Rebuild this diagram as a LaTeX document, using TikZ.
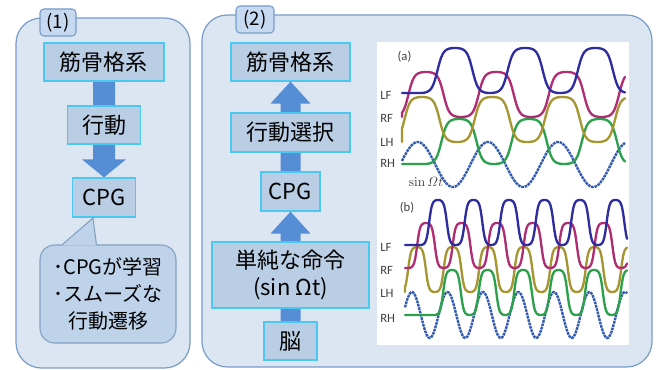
\documentclass[tikz,border=0pt]{standalone}
\usepackage[no-math]{fontspec}
\setmainfont{Noto Sans CJK JP}
\newfontfamily\labfont{Carlito}
\usetikzlibrary{calc}
\pgfdeclarelayer{bg}
\pgfsetlayers{bg,main}
\definecolor{panelfill}{RGB}{220,230,242}
\definecolor{panelline}{RGB}{120,155,200}
\definecolor{tabfill}{RGB}{198,217,241}
\definecolor{boxfill}{RGB}{185,205,229}
\definecolor{boxline}{RGB}{75,200,240}
\definecolor{arrowfill}{RGB}{85,142,213}
\definecolor{callfill}{RGB}{190,210,234}
\definecolor{callline}{RGB}{130,160,195}
\definecolor{cLF}{RGB}{45,45,160}
\definecolor{cRF}{RGB}{175,45,115}
\definecolor{cLH}{RGB}{165,150,50}
\definecolor{cRH}{RGB}{45,160,75}
\definecolor{csin}{RGB}{50,90,175}
% #1 style, #2 start x, #3 end of flat part, #4 end x, #5 baseline, #6 hump centre, #7 period
\newcommand{\gaitcurve}[7]{%
  \draw[curve,#1] (#2,#5) -- (#3,#5) -- plot[domain=#3:#4,samples=220]
    (\x,{#5-45*(0.5+0.5*tanh(1.9*cos((\x-#6)/#7*360))/0.95632)});}
\begin{document}
\begin{tikzpicture}[x=0.75pt,y=-0.75pt,
  panel/.style={draw=panelline, fill=panelfill, line width=0.9pt, rounded corners=19pt},
  tabbox/.style={draw=panelline, fill=tabfill, line width=0.8pt, rounded corners=3pt, inner sep=0pt, font=\fontsize{14}{16}\selectfont},
  stepbox/.style={draw=boxline, fill=boxfill, line width=0.9pt, inner sep=0pt, font=\fontsize{16.5}{20}\selectfont, align=center},
  callbox/.style={draw=callline, fill=callfill, line width=0.8pt, rounded corners=11pt, inner sep=0pt, font=\fontsize{15}{20.5}\selectfont, align=center},
  blockarrow/.style={fill=arrowfill},
  curve/.style={line width=1.75pt, line cap=round, line join=round},
  sincurve/.style={line width=1.8pt, csin, dash pattern=on 2pt off 0.6pt},
  plotlab/.style={font=\labfont\fontsize{9.5}{10}\selectfont, text=black!75, inner sep=0pt},
]
\useasboundingbox (0,0) rectangle (661,370);
\begin{pgfonlayer}{bg}
\draw[panel] (16,18) rectangle (190,368);
\draw[panel] (202,15) rectangle (652,367);
\fill[white] (377,42) rectangle (629,345);
\end{pgfonlayer}
\node[tabbox, minimum width=27pt, minimum height=20.25pt] (t1) at (58,22.5) {(1)};
\node[tabbox, minimum width=28.5pt, minimum height=20.25pt] (t2) at (255,19.5) {(2)};

% left column
\node[stepbox, minimum width=90pt, minimum height=28.5pt] (A1) at (104,62) {筋骨格系};
\node[stepbox, minimum width=54.75pt, minimum height=28.5pt] (A2) at (104,125) {行動};
\node[stepbox, minimum width=47.25pt, minimum height=29.25pt] (A3) at (104,197.5) {CPG};
\node[callbox, minimum width=102pt, minimum height=73.5pt] (C) at (108,294) {･CPGが学習\\･スムーズな\\行動遷移};
\coordinate (ctip) at (93,218);
\fill[callfill] ($(C.north west)+(23,1.2)$) -- (ctip) -- ($(C.north west)+(57,1.2)$) -- cycle;
\draw[callline, line width=0.8pt] ($(C.north west)+(23,0)$) -- (ctip) -- ($(C.north west)+(57,0)$);

% right column
\node[stepbox, minimum width=89.25pt, minimum height=28.5pt] (B1) at (290.5,62) {筋骨格系};
\node[stepbox, minimum width=89.25pt, minimum height=29.25pt] (B2) at (290.5,132.5) {行動選択};
\node[stepbox, minimum width=44.25pt, minimum height=29.25pt] (B3) at (290.5,191.5) {CPG};
\node[stepbox, minimum width=117.75pt, minimum height=49.5pt] (B4) at (290.5,275) {単純な命令\\(sin Ωt)};
\node[stepbox, minimum width=39.75pt, minimum height=28.5pt] (B5) at (290.5,341) {脳};

\begin{pgfonlayer}{bg}
\fill[blockarrow] ($(A1.south)+(-11,0)$) -- ($(A1.south)+(11,0)$) -- ($(A3.north)+(11,-18)$) -- ($(A3.north)+(22,-18)$) -- (A3.north) -- ($(A3.north)+(-22,-18)$) -- ($(A3.north)+(-11,-18)$) -- cycle;
\fill[blockarrow] ($(B5.north)+(-10,0)$) -- ($(B5.north)+(10,0)$) -- ($(B3.south)+(10,22)$) -- ($(B3.south)+(20,22)$) -- (B3.south) -- ($(B3.south)+(-20,22)$) -- ($(B3.south)+(-10,22)$) -- cycle;
\fill[blockarrow] ($(B3.north)+(-10,0)$) -- ($(B3.north)+(10,0)$) -- ($(B1.south)+(10,22)$) -- ($(B1.south)+(20,22)$) -- (B1.south) -- ($(B1.south)+(-20,22)$) -- ($(B1.south)+(-10,22)$) -- cycle;
\end{pgfonlayer}

% plot (a)
\draw[sincurve] plot[domain=402:625, samples=220] (\x,{164.5-22.5*sin((\x-400.2)/70.2*360)});
\gaitcurve{cRH}{402}{424}{625}{164}{459}{70.2}
\gaitcurve{cLH}{402}{402}{625}{142}{422}{70.2}
\gaitcurve{cRF}{402}{402}{625}{117}{426}{70.2}
\gaitcurve{cLF}{402}{420}{625}{93}{455}{70.2}
\node[plotlab] (pa) at (404.5,57) {(a)};
\node[plotlab, anchor=west] (lfa) at (380,95) {LF};
\node[plotlab, anchor=west] (rfa) at (380,118) {RF};
\node[plotlab, anchor=west] (lha) at (380,142) {LH};
\node[plotlab, anchor=west] (rha) at (380,163) {RH};
\node[font=\fontsize{10}{12}\selectfont, text=black!75, inner sep=0pt] (sinlab) at (426,182) {$\sin \mathit{\Omega} t$};

% plot (b)
\draw[sincurve] plot[domain=405:627, samples=260] (\x,{315-23*sin((\x-403.1)/35.5*360)});
\gaitcurve{cRH}{405}{434.25}{627}{315}{452}{35.5}
\gaitcurve{cLH}{405}{405}{627}{292}{417}{35.5}
\gaitcurve{cRF}{405}{408.25}{627}{268}{426}{35.5}
\gaitcurve{cLF}{405}{420.25}{627}{245}{438}{35.5}
\node[plotlab] (pb) at (407,208) {(b)};
\node[plotlab, anchor=west] (lfb) at (380,247) {LF};
\node[plotlab, anchor=west] (rfb) at (380,270) {RF};
\node[plotlab, anchor=west] (lhb) at (380,293) {LH};
\node[plotlab, anchor=west] (rhb) at (380,318) {RH};
\end{tikzpicture}
\end{document}
